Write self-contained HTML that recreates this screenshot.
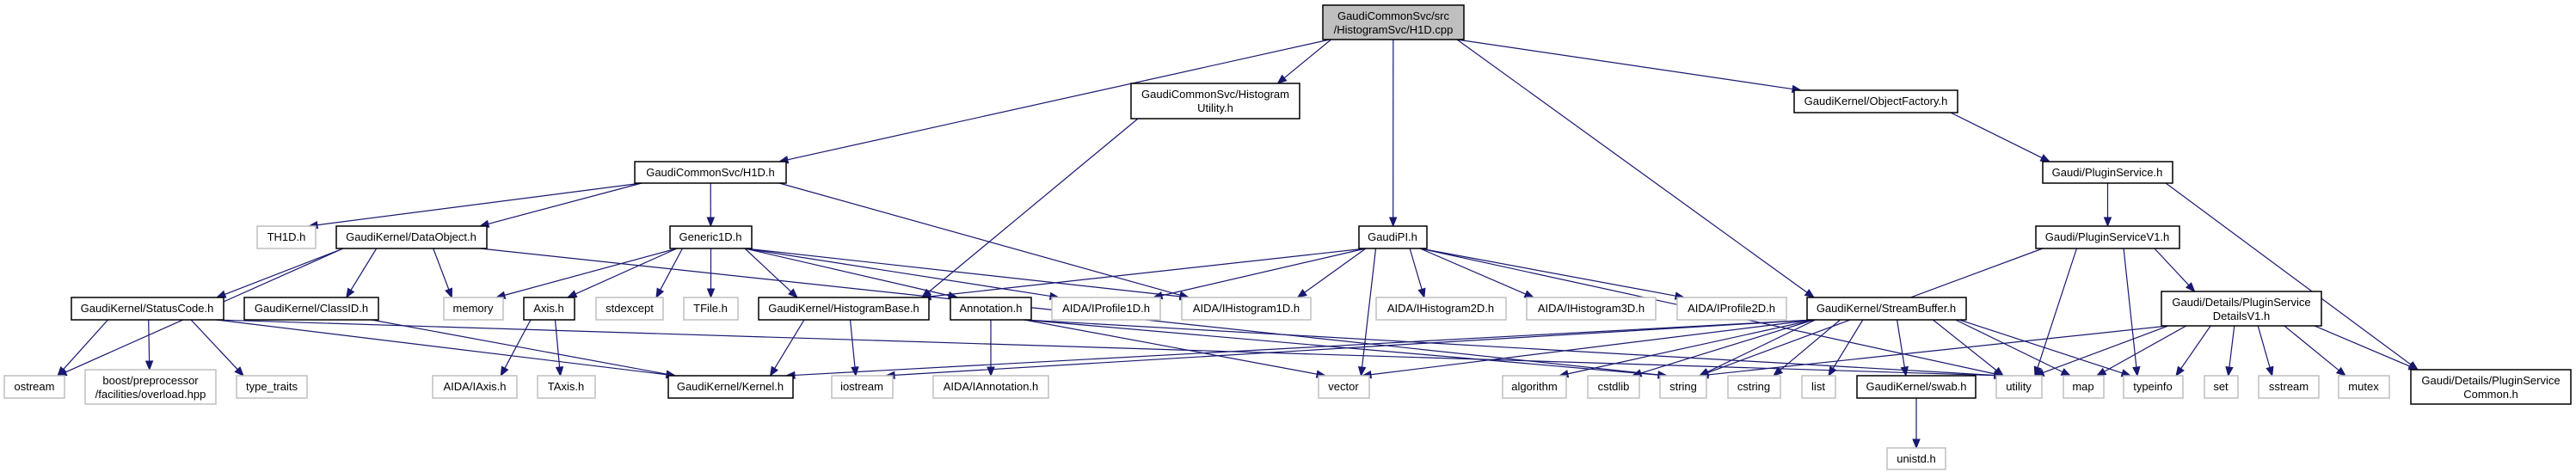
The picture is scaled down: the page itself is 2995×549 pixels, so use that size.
<!DOCTYPE html>
<html><head><meta charset="utf-8"><style>
html,body{margin:0;padding:0;background:#fff;}
svg{display:block;}
text{font-family:"Liberation Sans",sans-serif;font-size:13px;fill:#000;text-anchor:middle;}
.b{fill:#fff;stroke:#000;stroke-width:1.5;}
.g{fill:#fff;stroke:#bfbfbf;stroke-width:1.5;}
.r{fill:#bfbfbf;stroke:#000;stroke-width:1.5;}
.e{fill:none;stroke:#191970;stroke-width:1.2;}
.a{fill:#191970;stroke:#191970;}
</style></head><body>
<svg id="s" width="2995" height="549" viewBox="0 0 2995 549" xmlns="http://www.w3.org/2000/svg">
<g id="edges"></g>
<g id="nodes">
<rect id="root" class="r" x="1538" y="6" width="164" height="40"/><text x="1620" y="23">GaudiCommonSvc/src</text><text x="1620" y="39">/HistogramSvc/H1D.cpp</text>
<rect id="hu" class="b" x="1315" y="97" width="196" height="41"/><text x="1413" y="114">GaudiCommonSvc/Histogram</text><text x="1413" y="130">Utility.h</text>
<rect id="of" class="b" x="2086" y="105" width="190" height="26"/><text x="2181" y="122">GaudiKernel/ObjectFactory.h</text>
<rect id="h1d" class="b" x="738" y="188" width="176" height="25"/><text x="826" y="205">GaudiCommonSvc/H1D.h</text>
<rect id="ps" class="b" x="2375" y="188" width="151" height="25"/><text x="2450" y="205">Gaudi/PluginService.h</text>
<rect id="th1d" class="g" x="299" y="263" width="68" height="26"/><text x="333" y="280">TH1D.h</text>
<rect id="dobj" class="b" x="391" y="263" width="175" height="26"/><text x="478" y="280">GaudiKernel/DataObject.h</text>
<rect id="gen" class="b" x="779" y="263" width="95" height="26"/><text x="826" y="280">Generic1D.h</text>
<rect id="gpi" class="b" x="1580" y="263" width="79" height="26"/><text x="1619" y="280">GaudiPI.h</text>
<rect id="psv1" class="b" x="2367" y="263" width="167" height="26"/><text x="2450" y="280">Gaudi/PluginServiceV1.h</text>
<rect id="sc" class="b" x="83" y="346" width="177" height="26"/><text x="171" y="363">GaudiKernel/StatusCode.h</text>
<rect id="cid" class="b" x="284" y="346" width="156" height="26"/><text x="362" y="363">GaudiKernel/ClassID.h</text>
<rect id="mem" class="g" x="516" y="346" width="69" height="26"/><text x="550" y="363">memory</text>
<rect id="axis" class="b" x="609" y="346" width="59" height="26"/><text x="638" y="363">Axis.h</text>
<rect id="stdx" class="g" x="693" y="346" width="78" height="26"/><text x="732" y="363">stdexcept</text>
<rect id="tfile" class="g" x="795" y="346" width="63" height="26"/><text x="826" y="363">TFile.h</text>
<rect id="hb" class="b" x="882" y="346" width="198" height="26"/><text x="981" y="363">GaudiKernel/HistogramBase.h</text>
<rect id="ann" class="b" x="1105" y="346" width="94" height="26"/><text x="1152" y="363">Annotation.h</text>
<rect id="ip1" class="g" x="1223" y="346" width="126" height="26"/><text x="1286" y="363">AIDA/IProfile1D.h</text>
<rect id="ih1" class="g" x="1374" y="346" width="150" height="26"/><text x="1449" y="363">AIDA/IHistogram1D.h</text>
<rect id="ih2" class="g" x="1600" y="346" width="151" height="26"/><text x="1675" y="363">AIDA/IHistogram2D.h</text>
<rect id="ih3" class="g" x="1775" y="346" width="150" height="26"/><text x="1850" y="363">AIDA/IHistogram3D.h</text>
<rect id="ip2" class="g" x="1950" y="346" width="127" height="26"/><text x="2013" y="363">AIDA/IProfile2D.h</text>
<rect id="sb" class="b" x="2101" y="346" width="185" height="26"/><text x="2193" y="363">GaudiKernel/StreamBuffer.h</text>
<rect id="dv1" class="b" x="2513" y="339" width="186" height="40"/><text x="2606" y="356">Gaudi/Details/PluginService</text><text x="2606" y="372">DetailsV1.h</text>
<rect id="ost" class="g" x="5" y="437" width="70" height="26"/><text x="40" y="454">ostream</text>
<rect id="boost" class="g" x="99" y="430" width="152" height="40"/><text x="175" y="447">boost/preprocessor</text><text x="175" y="463">/facilities/overload.hpp</text>
<rect id="tt" class="g" x="275" y="437" width="82" height="26"/><text x="316" y="454">type_traits</text>
<rect id="iaxis" class="g" x="503" y="437" width="98" height="26"/><text x="552" y="454">AIDA/IAxis.h</text>
<rect id="taxis" class="g" x="625" y="437" width="67" height="26"/><text x="658" y="454">TAxis.h</text>
<rect id="kern" class="b" x="777" y="437" width="145" height="26"/><text x="849" y="454">GaudiKernel/Kernel.h</text>
<rect id="ios" class="g" x="967" y="437" width="71" height="26"/><text x="1002" y="454">iostream</text>
<rect id="iann" class="g" x="1085" y="437" width="134" height="26"/><text x="1152" y="454">AIDA/IAnnotation.h</text>
<rect id="vec" class="g" x="1533" y="437" width="59" height="26"/><text x="1562" y="454">vector</text>
<rect id="alg" class="g" x="1747" y="437" width="74" height="26"/><text x="1784" y="454">algorithm</text>
<rect id="cstdlib" class="g" x="1846" y="437" width="60" height="26"/><text x="1876" y="454">cstdlib</text>
<rect id="str" class="g" x="1930" y="437" width="54" height="26"/><text x="1957" y="454">string</text>
<rect id="cstr" class="g" x="2009" y="437" width="61" height="26"/><text x="2039" y="454">cstring</text>
<rect id="list" class="g" x="2095" y="437" width="39" height="26"/><text x="2114" y="454">list</text>
<rect id="swab" class="b" x="2159" y="437" width="138" height="26"/><text x="2228" y="454">GaudiKernel/swab.h</text>
<rect id="util" class="g" x="2321" y="437" width="53" height="26"/><text x="2347" y="454">utility</text>
<rect id="map" class="g" x="2399" y="437" width="47" height="26"/><text x="2422" y="454">map</text>
<rect id="tinfo" class="g" x="2469" y="437" width="69" height="26"/><text x="2503" y="454">typeinfo</text>
<rect id="set" class="g" x="2563" y="437" width="39" height="26"/><text x="2582" y="454">set</text>
<rect id="sstr" class="g" x="2626" y="437" width="70" height="26"/><text x="2661" y="454">sstream</text>
<rect id="mutex" class="g" x="2719" y="437" width="59" height="26"/><text x="2748" y="454">mutex</text>
<rect id="common" class="b" x="2803" y="430" width="186" height="40"/><text x="2896" y="447">Gaudi/Details/PluginService</text><text x="2896" y="463">Common.h</text>
<rect id="unistd" class="g" x="2194" y="521" width="68" height="25"/><text x="2228" y="538">unistd.h</text>
</g>
</svg>
<script>
var E=[["root","h1d"],["root","hu"],["root","gpi"],["root","sb"],["root","of"],
["h1d","th1d"],["h1d","dobj"],["h1d","gen"],["h1d","ih1"],
["dobj","ost"],["dobj","sc"],["dobj","cid"],["dobj","mem"],["dobj","str"],
["sc","ost"],["sc","boost"],["sc","tt"],["sc","kern"],["sc","util"],
["cid","kern"],
["gen","mem"],["gen","axis"],["gen","stdx"],["gen","tfile"],["gen","hb"],["gen","ann"],["gen","ip1"],["gen","ih1"],
["axis","iaxis"],["axis","taxis"],
["hb","kern"],["hb","ios"],
["ann","iann"],["ann","vec"],["ann","str"],["ann","util"],
["hu","hb"],
["gpi","hb"],["gpi","ip1"],["gpi","ih1"],["gpi","ih2"],["gpi","ih3"],["gpi","ip2"],["gpi","vec"],["gpi","util"],
["sb","kern"],["sb","ios"],["sb","vec"],["sb","alg"],["sb","cstdlib"],["sb","str"],["sb","cstr"],["sb","list"],["sb","swab"],["sb","util"],["sb","map"],["sb","tinfo"],
["swab","unistd"],
["of","ps"],["ps","psv1"],["ps","common"],
["psv1","dv1"],["psv1","str"],["psv1","util"],["psv1","tinfo"],
["dv1","str"],["dv1","util"],["dv1","map"],["dv1","tinfo"],["dv1","set"],["dv1","sstr"],["dv1","mutex"],["dv1","common"]];
function R(id){var r=document.getElementById(id);return{x:+r.getAttribute('x'),y:+r.getAttribute('y'),w:+r.getAttribute('width'),h:+r.getAttribute('height')};}
var g=document.getElementById('edges'),ns="http://www.w3.org/2000/svg",out="";
E.forEach(function(e){var a=R(e[0]),b=R(e[1]);
var ac=a.x+a.w/2,bc=b.x+b.w/2;
var sx=ac+Math.max(-a.w/2+8,Math.min(a.w/2-8,(bc-ac)*0.35));
var tx=bc+Math.max(-b.w/2+8,Math.min(b.w/2-8,(ac-bc)*0.35));
var sy=a.y+a.h,ty=b.y;
var dx=tx-sx,dy=ty-sy,L=Math.sqrt(dx*dx+dy*dy),ux=dx/L,uy=dy/L;
var ex=tx-ux*10,ey=ty-uy*10;
out+='<path class="e" d="M'+sx+','+sy+' L'+ex+','+ey+'"/>';
var px=-uy*4,py=ux*4;
out+='<polygon class="a" points="'+tx+','+ty+' '+(ex+px)+','+(ey+py)+' '+(ex-px)+','+(ey-py)+'"/>';});
g.innerHTML=out;
</script>
</body></html>
